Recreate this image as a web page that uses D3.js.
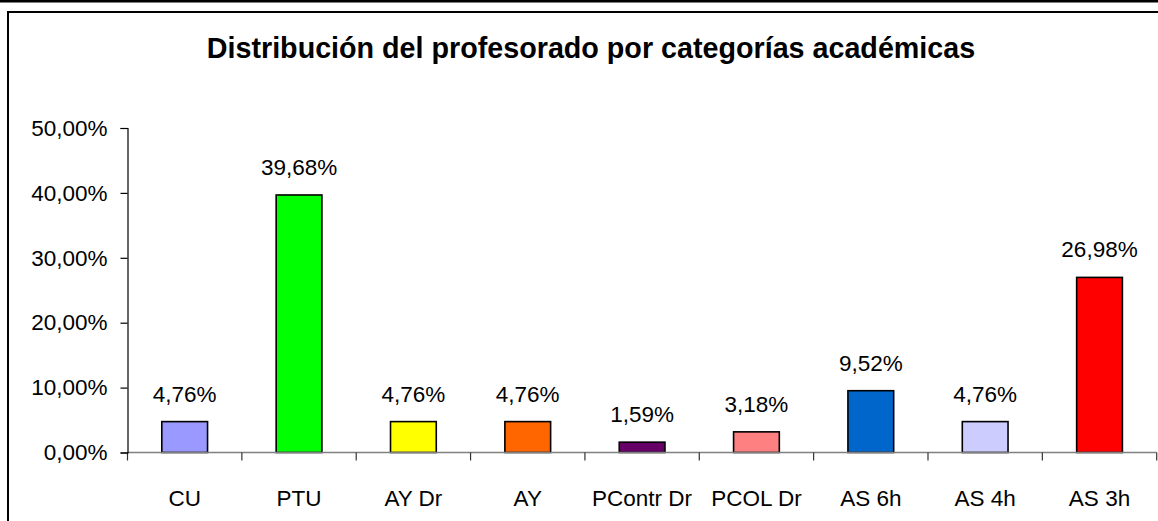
<!DOCTYPE html>
<html>
<head>
<meta charset="utf-8">
<script src="https://cdn.jsdelivr.net/npm/d3@7"></script>
<style>
  html, body { margin: 0; padding: 0; background: #fff; }
  svg { display: block; font-family: "Liberation Sans", Arial, sans-serif; }
</style>
</head>
<body>
<svg id="chart" width="1158" height="521"></svg>
<script>
const categories = ["CU", "PTU", "AY Dr", "AY", "PContr Dr", "PCOL Dr", "AS 6h", "AS 4h", "AS 3h"];
const values = [4.76, 39.68, 4.76, 4.76, 1.59, 3.18, 9.52, 4.76, 26.98];
const valueLabels = ["4,76%", "39,68%", "4,76%", "4,76%", "1,59%", "3,18%", "9,52%", "4,76%", "26,98%"];
const barColors = ["#9999FF", "#00FF00", "#FFFF00", "#FF6600", "#660066", "#FF8080", "#0066CC", "#CCCCFF", "#FF0000"];
const yTicks = [0, 10, 20, 30, 40, 50];
const yTickLabels = ["0,00%", "10,00%", "20,00%", "30,00%", "40,00%", "50,00%"];
const title = "Distribución del profesorado por categorías académicas";

const svg = d3.select("#chart");
const W = 1158, H = 521;

// outer frame lines
svg.append("line").attr("x1", 0).attr("x2", W).attr("y1", 1.3).attr("y2", 1.3)
  .attr("stroke", "#000").attr("stroke-width", 2.6);
svg.append("path").attr("d", `M8,${H + 5} V12 H${W + 5}`)
  .attr("fill", "none").attr("stroke", "#000").attr("stroke-width", 2);

const plotLeft = 127.5, plotRight = 1156.7, plotTop = 128, plotBottom = 452.5;

const x = d3.scaleBand().domain(categories).range([plotLeft, plotRight]).paddingInner(0.6).paddingOuter(0.3);
const xEdges = d3.scaleBand().domain(categories).range([plotLeft, plotRight]).padding(0);
const y = d3.scaleLinear().domain([0, 50]).range([plotBottom, plotTop]);

// title
svg.append("text").attr("x", 591).attr("y", 58).attr("text-anchor", "middle")
  .attr("font-size", 28.7).attr("font-weight", "bold").attr("fill", "#000").text(title);

// bars
svg.append("g").selectAll("rect").data(values).join("rect")
  .attr("x", (d, i) => x(categories[i]))
  .attr("width", x.bandwidth())
  .attr("y", d => y(d))
  .attr("height", d => y(0) - y(d))
  .attr("fill", (d, i) => barColors[i])
  .attr("stroke", "#000").attr("stroke-width", 1.6);

// x axis
const xAxisG = svg.append("g").attr("transform", `translate(0,${plotBottom})`);
xAxisG.append("line").attr("x1", plotLeft).attr("x2", plotRight).attr("y1", 0).attr("y2", 0)
  .attr("stroke", "#808080").attr("stroke-width", 1.5);
const edgePositions = categories.map(c => xEdges(c)).concat([plotRight]);
xAxisG.selectAll("line.tick").data(edgePositions).join("line").attr("class", "tick")
  .attr("x1", d => d).attr("x2", d => d).attr("y1", 0).attr("y2", 8)
  .attr("stroke", "#333").attr("stroke-width", 1.2);
xAxisG.selectAll("text").data(categories).join("text")
  .attr("x", d => xEdges(d) + xEdges.bandwidth() / 2)
  .attr("y", 53).attr("text-anchor", "middle").attr("font-size", 22.5).attr("fill", "#000")
  .text(d => d);

// y axis
const yAxis = d3.axisLeft(y).tickValues(yTicks).tickSize(7).tickPadding(13)
  .tickFormat((d, i) => yTickLabels[i]);
const yAxisG = svg.append("g").attr("transform", `translate(${plotLeft},0)`).call(yAxis);
yAxisG.select(".domain").attr("stroke", "#000").attr("stroke-width", 1.2);
yAxisG.selectAll(".tick line").attr("stroke", "#000").attr("stroke-width", 1.2);
yAxisG.selectAll(".tick text").attr("font-size", 22.5).attr("fill", "#000")
  .attr("font-family", "'Liberation Sans', Arial, sans-serif");

// value labels
svg.append("g").selectAll("text").data(values).join("text")
  .attr("x", (d, i) => x(categories[i]) + x.bandwidth() / 2)
  .attr("y", d => y(d) - 20)
  .attr("text-anchor", "middle").attr("font-size", 22.5).attr("fill", "#000")
  .text((d, i) => valueLabels[i]);
</script>
</body>
</html>
